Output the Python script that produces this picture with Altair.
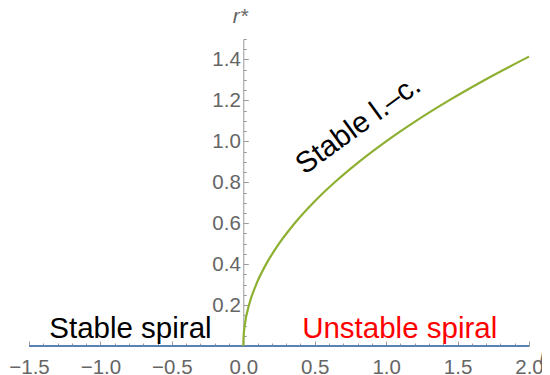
import altair as alt
import pandas as pd

# Fixed point r* = 0 (whole mu range)
mu_zero = [-1.5, 2.0]
r_zero = [0.0, 0.0]

# Limit cycle branch
mu_curve = [0.0, 0.0025, 0.01, 0.04, 0.09, 0.16, 0.25, 0.36, 0.49, 0.64, 0.81, 1.0, 1.21, 1.44, 1.69, 2.0]
r_curve = [0.0, 0.05, 0.1, 0.2, 0.3, 0.4, 0.5, 0.6, 0.7, 0.8, 0.9, 1.0, 1.1, 1.2, 1.3, 1.414]

# Tick values
x_major = [-1.5, -1.0, -0.5, 0.0, 0.5, 1.0, 1.5, 2.0]
x_minor = [-1.5, -1.4, -1.3, -1.2, -1.1, -1.0, -0.9, -0.8, -0.7, -0.6, -0.5, -0.4,
           -0.3, -0.2, -0.1, 0.0, 0.1, 0.2, 0.3, 0.4, 0.5, 0.6, 0.7, 0.8, 0.9, 1.0,
           1.1, 1.2, 1.3, 1.4, 1.5, 1.6, 1.7, 1.8, 1.9, 2.0]
y_major = [0.2, 0.4, 0.6, 0.8, 1.0, 1.2, 1.4]
y_minor = [0.05, 0.1, 0.15, 0.2, 0.25, 0.3, 0.35, 0.4, 0.45, 0.5, 0.55, 0.6, 0.65,
           0.7, 0.75, 0.8, 0.85, 0.9, 0.95, 1.0, 1.05, 1.1, 1.15, 1.2, 1.25, 1.3,
           1.35, 1.4, 1.45, 1.5]

# Annotations
region_text = ["Stable spiral", "Unstable spiral"]
region_mu = [-0.79, 1.095]
region_r = [0.041, 0.041]
region_color = ["black", "red"]

lc_text = ["Stable l.–c."]
lc_mu = [0.805]
lc_r = [1.08]

W, H = 500, 307
X0_OFF = 214.29 - W  # y-axis sits at mu = 0

FONT = "Liberation Sans"
LABEL_C = "#666666"
AXIS_C = "#9a9a9a"

xs = alt.Scale(domain=[-1.5, 2.0], nice=False, zero=False)
ys = alt.Scale(domain=[0, 1.5], nice=False, zero=False)

df_zero = pd.DataFrame({"mu": mu_zero, "r": r_zero})
df_curve = pd.DataFrame({"mu": mu_curve, "r": r_curve})
df_reg = pd.DataFrame({"t": region_text, "mu": region_mu, "r": region_r, "c": region_color})
df_lc = pd.DataFrame({"t": lc_text, "mu": lc_mu, "r": lc_r})
df_rlab = pd.DataFrame({"t": ["r*"], "mu": [0.0], "r": [1.5]})
df_mulab = pd.DataFrame({"t": ["μ"], "mu": [2.0], "r": [0.0]})

x_major_axis = alt.Axis(orient="top", offset=-H, values=x_major, tickSize=5, tickColor=AXIS_C,
                        domainColor=AXIS_C, labelFont=FONT, labelFontSize=20.5, labelColor=LABEL_C,
                        labelBaseline="top", labelPadding=-16, labelFlush=False, labelOverlap=False,
                        format=".1f", grid=False, title=None)
y_major_axis = alt.Axis(orient="right", offset=X0_OFF, values=y_major, tickSize=5, tickColor=AXIS_C,
                        domainColor=AXIS_C, labelFont=FONT, labelFontSize=20.5, labelColor=LABEL_C,
                        labelAlign="right", labelBaseline="middle", labelPadding=-8, labelFlush=False,
                        labelOverlap=False, format=".1f", grid=False, title=None)
x_minor_axis = alt.Axis(orient="top", offset=-H, values=x_minor, tickSize=3, tickColor=AXIS_C,
                        domain=False, labels=False, grid=False, title=None)
y_minor_axis = alt.Axis(orient="right", offset=X0_OFF, values=y_minor, tickSize=3, tickColor=AXIS_C,
                        domain=False, labels=False, grid=False, title=None)

zero_line = alt.Chart(df_zero).mark_line(color="#5E81B5", strokeWidth=2).encode(
    x=alt.X("mu:Q", scale=xs, axis=x_major_axis),
    y=alt.Y("r:Q", scale=ys, axis=y_major_axis),
)

curve = alt.Chart(df_curve).mark_line(color="#8DB032", strokeWidth=2.2, interpolate="monotone").encode(
    x=alt.X("mu:Q", scale=xs, axis=x_minor_axis),
    y=alt.Y("r:Q", scale=ys, axis=y_minor_axis),
)

regions = alt.Chart(df_reg).mark_text(font=FONT, fontSize=29.5, align="center", baseline="alphabetic").encode(
    x=alt.X("mu:Q", scale=xs, axis=None),
    y=alt.Y("r:Q", scale=ys, axis=None),
    text="t:N",
    color=alt.Color("c:N", scale=None),
)

lc = alt.Chart(df_lc).mark_text(font=FONT, fontSize=29.5, align="center", baseline="middle",
                                angle=324, color="black").encode(
    x=alt.X("mu:Q", scale=xs, axis=None),
    y=alt.Y("r:Q", scale=ys, axis=None),
    text="t:N",
)

rlab = alt.Chart(df_rlab).mark_text(font=FONT, fontSize=21, fontStyle="italic", color=LABEL_C,
                                    align="center", baseline="middle", dx=-3, dy=-22).encode(
    x=alt.X("mu:Q", scale=xs, axis=None),
    y=alt.Y("r:Q", scale=ys, axis=None),
    text="t:N",
)

mulab = alt.Chart(df_mulab).mark_text(font=FONT, fontSize=21, fontStyle="italic", color=LABEL_C,
                                      align="center", baseline="middle", dx=17, dy=8).encode(
    x=alt.X("mu:Q", scale=xs, axis=None),
    y=alt.Y("r:Q", scale=ys, axis=None),
    text="t:N",
)

chart = alt.layer(zero_line, curve, regions, lc, rlab, mulab).resolve_axis(
    x="independent", y="independent"
).properties(
    width=W, height=H,
    autosize=alt.AutoSizeParams(type="none"),
    padding={"left": 21, "top": 31, "right": 13, "bottom": 36},
    background="white",
).configure_view(stroke=None)

chart.save("out.html", embed_options={"renderer": "svg", "actions": False})
